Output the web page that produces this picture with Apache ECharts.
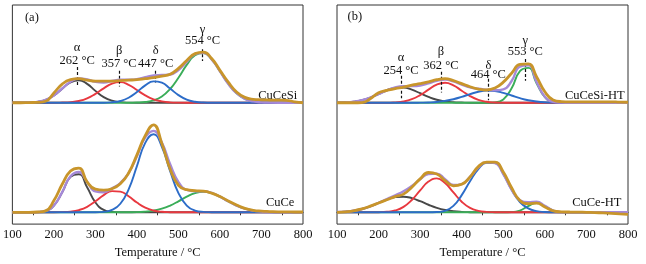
<!DOCTYPE html>
<html><head><meta charset="utf-8">
<script src="https://cdn.jsdelivr.net/npm/echarts@6/dist/echarts.min.js"></script>
<style>html,body{margin:0;padding:0;background:#fff}#c{width:646px;height:264px}</style>
</head><body><div id="c"></div>
<script>
// Temperature grid (°C)
const temps = [100,120,140,160,180,200,220,240,260,280,300,320,340,360,380,400,420,440,460,480,500,520,540,560,580,600,620,640,660,680,700,720,740,760,780,800];

// (a) CuCeSi  (intensity, a.u.)
const cuCeSi_alpha = [0,0,0.2,0.9,2.9,7.5,14.3,20.8,22.9,19.2,12.1,5.8,2.1,0.6,0.1,0,0,0,0,0,0,0,0,0,0,0,0,0,0,0,0,0,0,0,0,0];
const cuCeSi_beta  = [0,0,0,0,0,0,0.2,0.6,1.8,4.5,9.1,14.7,19.5,21,18.3,13,7.5,3.5,1.4,0.4,0.1,0,0,0,0,0,0,0,0,0,0,0,0,0,0,0];
const cuCeSi_delta = [0,0,0,0,0,0,0,0,0,0,0,0,0.5,1.8,5.1,10.9,17.7,21.8,20.4,14.4,7.8,3.2,1.0,0.2,0,0,0,0,0,0,0,0,0,0,0,0];
const cuCeSi_gamma = [0,0,0,0,0,0,0,0,0,0,0,0,0,0,0,0.2,0.8,2.4,6.4,14,25.4,38.5,48.4,50.7,44.2,32,19.3,9.7,4,1.4,0.4,0.1,0,0,0,0];
const cuCeSi_fit   = [0,0,0.2,0.9,2.9,7.5,14.5,21.4,24.7,23.7,21.2,20.5,22.1,23.4,23.5,24.1,26.0,27.7,28.2,28.8,33.3,41.7,49.4,50.9,44.2,32,19.3,9.7,4,1.4,0.4,0.1,0,0,0,0];
const cuCeSi_exp   = [0,0,0.2,0.4,1.5,10,19,23.5,24.5,23,22,22,22,22.5,23,23.5,24.5,25.5,27,29,35,43,50,51.5,45,33,21,11,5.5,3.5,3,2.8,2.7,2.5,1,0];

// (a) CuCe
const cuCe_alpha = [0,0,0,0.2,1.4,6.9,20.3,36,38.8,25.4,10.1,2.4,0.4,0,0,0,0,0,0,0,0,0,0,0,0,0,0,0,0,0,0,0,0,0,0,0];
const cuCe_beta  = [0,0,0,0,0,0,0.2,0.7,2.3,5.6,11.2,17.5,21.6,21.1,16.3,9.9,4.8,1.8,0.5,0.1,0,0,0,0,0,0,0,0,0,0,0,0,0,0,0,0];
const cuCe_delta = [0,0,0,0,0,0,0,0,0,0,0,0.5,2.4,8.7,23.4,47,70.7,79.4,66.7,41.9,19.6,6.9,1.8,0.4,0.1,0,0,0,0,0,0,0,0,0,0,0];
const cuCe_gamma = [0,0,0,0,0,0,0,0,0,0,0,0,0,0,0.1,0.2,0.7,1.7,3.7,6.9,11.2,15.9,19.6,21,19.6,15.9,11.2,6.9,3.7,1.7,0.7,0.2,0.1,0,0,0];
const cuCe_fit   = [0,0,0,0.2,1.4,6.9,20.5,36.7,41.1,31,21.3,20.4,24.4,29.8,39.8,57.1,76.2,82.9,70.9,48.9,30.8,22.8,21.4,21.4,19.7,15.9,11.2,6.9,3.7,1.7,0.7,0.2,0.1,0,0,0];
const cuCe_exp   = [0,0,0,0.3,1.5,12,28.5,42,45,31,23.5,22.5,24,29,40,58.5,78,89,70,44,27.5,23,22,21.5,19.5,16,11.5,7.5,4,2,1.2,0.8,0.5,0.5,0.3,0.3];

// (b) CuCeSi-HT
const cuCeSiHT_alpha = [0.1,0.4,1.2,2.7,5.3,8.9,12.7,15.2,15.5,13.3,9.7,6,3.1,1.4,0.5,0.2,0,0,0,0,0,0,0,0,0,0,0,0,0,0,0,0,0,0,0,0];
const cuCeSiHT_beta  = [0,0,0,0,0,0,0,0.4,1.3,3.6,7.8,13.4,18.5,20.3,17.7,12.3,6.8,3,1,0.3,0.1,0,0,0,0,0,0,0,0,0,0,0,0,0,0,0];
const cuCeSiHT_delta = [0,0,0,0,0,0,0,0,0,0,0.1,0.3,0.8,1.9,3.6,6,8.8,11.2,12.4,12,10.1,7.4,4.7,2.6,1.3,0.5,0.2,0.1,0,0,0,0,0,0,0,0];
const cuCeSiHT_gamma = [0,0,0,0,0,0,0,0,0,0,0,0,0,0,0,0,0,0,0,0.4,3.4,14.7,32.1,35.5,19.9,5.7,0.8,0.1,0,0,0,0,0,0,0,0];
const cuCeSiHT_fit   = [0.1,0.4,1.2,2.7,5.3,8.9,12.7,15.6,16.8,16.9,17.6,19.7,22.4,23.6,21.8,18.5,15.6,14.2,13.4,12.7,13.6,22.1,36.8,38.1,21.2,6.2,1.0,0.2,0,0,0,0,0,0,0,0];
const cuCeSiHT_exp   = [0,0,0,0.2,4,10.2,12.5,14.5,16,18,19.5,21.3,23.5,24.5,22.5,19.5,16.3,14,13,15,21,30,39,39.5,26.5,11.2,2.8,1.2,1,1,1,1,0.8,1,0.6,0.5];

// (b) CuCe-HT
const cuCeHT_alpha = [0.3,0.7,1.6,3.4,6.1,9.5,13,15.4,15.9,14.4,11.3,7.7,4.6,2.4,1.1,0.4,0.1,0,0,0,0,0,0,0,0,0,0,0,0,0,0,0,0,0,0,0];
const cuCeHT_beta  = [0,0,0,0,0,0.1,0.5,1.9,5.5,12.5,22.3,31.3,34.5,29.8,20.2,10.8,4.5,1.5,0.4,0.1,0,0,0,0,0,0,0,0,0,0,0,0,0,0,0,0];
const cuCeHT_delta = [0,0,0,0,0,0,0,0,0,0,0,0,0.3,1.5,6.5,17.5,31.5,44,50.5,50,39,23,10.5,4,1.2,0.3,0,0,0,0,0,0,0,0,0,0];
const cuCeHT_gamma = [0,0,0,0,0,0,0,0,0,0,0,0,0,0,0,0,0,0,0,0,0,0.2,1.8,6.2,9.5,6.2,1.8,0.2,0,0,0,0,0,0,0,0];
const cuCeHT_fit   = [0.3,0.7,1.6,3.4,6.1,9.6,13.5,17.3,21.4,26.9,33.6,39.0,39.4,33.7,27.8,28.7,36.1,45.5,50.9,50.1,39,23.2,12.3,10.2,10.7,6.5,1.8,0.2,0,0,0,0,0,0,0,0];
const cuCeHT_exp   = [0,0.5,1.5,3.5,6.3,9.5,12.8,16,18.5,25.5,34,40.5,39,32.3,27,28.5,36,46.5,51,51,41,25,12,8.8,9.3,5.5,1.5,0.5,0.3,0.2,0,-0.3,-0.6,-1,-1.5,-2];

// Text
const peakNames = ['α','β','δ','γ'];
const peakTempsA = ['262 °C','357 °C','447 °C','554 °C'];
const peakTempsB = ['254 °C','362 °C','464 °C','553 °C'];
const sampleNames = ['CuCeSi','CuCe','CuCeSi-HT','CuCe-HT'];
const panelTags = ['(a)','(b)'];
const xTitle = 'Temperature / °C';

// ---------- layout / styling (not data) ----------
const OFFSET = 111.5; // vertical offset of upper curve set
const annA = [{x:256,g:168,t:154,d:[148,129]},{x:357,g:164,t:151,d:[144,128]},{x:445,g:164,t:151,d:[144,132]},{x:558,g:186,t:175,d:[166,154]}];
const annB = [{x:254,g:157,t:144,d:[139,116]},{x:350,g:163,t:149,d:[143,122]},{x:464,g:149,t:140,d:[136,114]},{x:553,g:175,t:163,d:[156,134]}];
const samplePos = [[739,119],[745,10],[720,119],[725,10]];
const tagPos = [[147,198],[143,199]];
const COL = {alpha:'#484848', beta:'#e8383f', delta:'#2c6cc8', gamma:'#3aad58', fit:'#a589d8', exp:'#c8952b'};
const FONT = 'Liberation Serif';

function line(axis, vals, off, color, width, z){
  return {type:'line', xAxisIndex:axis, yAxisIndex:axis, data: temps.map((t,i)=>[t, vals[i]+off]),
    smooth:0.5, showSymbol:false, symbol:'none', lineStyle:{color:color, width:width}, z:z, silent:true};
}
function setSeries(axis, set, off){
  return [
    line(axis,set[0],off,COL.alpha,1.9,2),
    line(axis,set[3],off,COL.gamma,1.9,3),
    line(axis,set[1],off,COL.beta,1.9,4),
    line(axis,set[2],off,COL.delta,1.9,5),
    line(axis,set[4],off,COL.fit,2.4,6),
    line(axis,set[5],off,COL.exp,2.8,7)
  ];
}
function txt(coord, text, size){
  return {coord:coord, symbol:'circle', symbolSize:1, itemStyle:{color:'rgba(0,0,0,0)'},
    label:{show:true, position:'inside', formatter:text, color:'#111', fontFamily:FONT, fontSize:size}};
}
function annotate(axis, ann, temps_, sIdx, tIdx){
  const pts = [], lines = [];
  ann.forEach((a,i)=>{
    pts.push(txt([a.x,a.g], peakNames[i], 12.5));
    pts.push(txt([a.x,a.t], temps_[i], 12.5));
    lines.push([{coord:[a.x,a.d[0]]},{coord:[a.x,a.d[1]]}]);
  });
  sIdx.forEach(k=>pts.push(txt(samplePos[k], sampleNames[k], 12.5)));
  pts.push(txt(tagPos[tIdx], panelTags[tIdx], 12.5));
  return {type:'line', xAxisIndex:axis, yAxisIndex:axis, data:[], z:10, silent:true,
    markPoint:{silent:true, animation:false, data:pts},
    markLine:{silent:true, animation:false, symbol:['none','none'], label:{show:false},
      lineStyle:{type:[3,2], color:'#111', width:1.2}, data:lines}};
}
function xAxis(i){
  return {type:'value', gridIndex:i, min:100, max:800, interval:100,
    axisLine:{show:true, lineStyle:{color:'#333', width:1}},
    axisTick:{show:false},
    minorTick:{show:true, splitNumber:2, length:3, lineStyle:{color:'#333'}},
    splitLine:{show:false},
    axisLabel:{fontFamily:FONT, fontSize:12.5, color:'#111', margin:4},
    name:xTitle, nameLocation:'middle', nameGap:17,
    nameTextStyle:{fontFamily:FONT, fontSize:12.5, color:'#111'}};
}
function yAxis(i){ return {type:'value', gridIndex:i, min:-12, max:211, show:false}; }

const series = [].concat(
  setSeries(0,[cuCeSi_alpha,cuCeSi_beta,cuCeSi_delta,cuCeSi_gamma,cuCeSi_fit,cuCeSi_exp],OFFSET),
  setSeries(0,[cuCe_alpha,cuCe_beta,cuCe_delta,cuCe_gamma,cuCe_fit,cuCe_exp],0),
  setSeries(1,[cuCeSiHT_alpha,cuCeSiHT_beta,cuCeSiHT_delta,cuCeSiHT_gamma,cuCeSiHT_fit,cuCeSiHT_exp],OFFSET),
  setSeries(1,[cuCeHT_alpha,cuCeHT_beta,cuCeHT_delta,cuCeHT_gamma,cuCeHT_fit,cuCeHT_exp],0),
  [annotate(0, annA, peakTempsA, [0,1], 0), annotate(1, annB, peakTempsB, [2,3], 1)]
);

const chart = echarts.init(document.getElementById('c'), null, {renderer:'canvas'});
chart.setOption({
  animation:false,
  backgroundColor:'#fff',
  grid:[
    {left:11, right:343, top:5, bottom:36, show:true, borderColor:'#333', borderWidth:1},
    {left:337, right:18, top:5, bottom:36, show:true, borderColor:'#333', borderWidth:1}
  ],
  xAxis:[xAxis(0), xAxis(1)],
  yAxis:[yAxis(0), yAxis(1)],
  series: series
});
</script></body></html>
